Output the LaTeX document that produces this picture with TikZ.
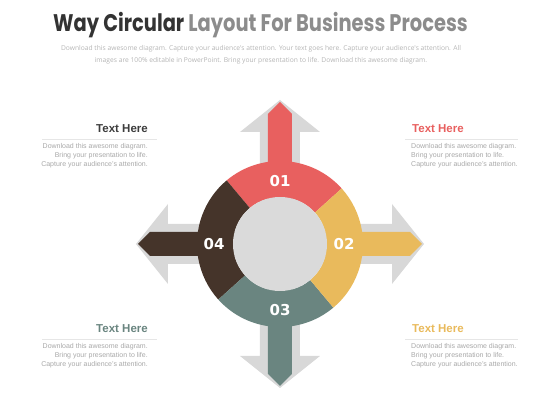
\documentclass[tikz,border=0pt]{standalone}
\usepackage{fontspec}
\setmainfont{Liberation Sans}
\newfontfamily\headfont{Poppins}
\newfontfamily\notefont{Open Sans}
\newfontfamily\digitfont{DejaVu Sans}
\usepackage{tikz}

\definecolor{segred}{HTML}{E8605F}
\definecolor{segyellow}{HTML}{E9BA5C}
\definecolor{segteal}{HTML}{6A8580}
\definecolor{segbrown}{HTML}{45342A}
\definecolor{arrowgray}{HTML}{D8D8D8}
\definecolor{hubgray}{HTML}{DADADA}
\definecolor{titledark}{HTML}{333333}
\definecolor{titlegray}{HTML}{8C8C8C}
\definecolor{notegray}{HTML}{A8A8A8}
\definecolor{rulegray}{HTML}{E6E6E6}

\begin{document}
\begin{tikzpicture}[
            x = 1pt, y = 1pt, % one unit per pixel, origin at the hub
            number/.style = {font=\digitfont\bfseries\fontsize{15}{15}\selectfont, text=white, inner sep=0pt},
            heading/.style = {font=\bfseries\fontsize{11.5}{12}\selectfont, inner sep=0pt},
            note/.style = {font=\fontsize{7}{8.7}\selectfont, text=notegray, inner sep=0pt},
            rule/.style = {draw=rulegray, line width=0.6pt}
        ]
\useasboundingbox (-280,-176) rectangle (280,244);

% title
\node[inner sep=0pt, anchor=base, font=\headfont\bfseries\fontsize{24}{26}\selectfont] (title) at (-19.5,212)
    {\scalebox{0.81}[1]{\color{titledark}Way Circular \color{titlegray}Layout For Business Process}};
\node[inner sep=0pt, align=center, text=notegray!85, font=\notefont\fontsize{6.7}{12}\selectfont] (subtitle) at (-19,189.5)
    {Download this awesome diagram. Capture your audience's attention. Your text goes here. Capture your audience's attention. All\\
     images are 100\% editable in PowerPoint.  Bring your presentation to life. Download this awesome diagram.};

% gray arrows behind
\foreach \d in {0,90,180,270} {
  \fill[arrowgray, rotate=\d] (0,-20) -- (112,-20) -- (112,-40) -- (144,0) -- (112,40) -- (112,20) -- (0,20) -- cycle;
}

% coloured arrows
\foreach \d/\c in {90/segred, 0/segyellow, 270/segteal, 180/segbrown} {
  \fill[\c, rotate=\d] (0,-12) -- (130,-12) -- (142,0) -- (130,12) -- (0,12) -- cycle;
}

% ring
\foreach \a/\b/\c in {42/130/segred, 130/222/segbrown, 222/310/segteal, 310/402/segyellow} {
  \fill[\c] (\a:83) arc[start angle=\a, end angle=\b, radius=83] -- (\b:47)
    arc[start angle=\b, end angle=\a, radius=47] -- cycle;
}
\node[circle, fill=hubgray, minimum size=94pt, inner sep=0pt] (hub) at (0,0) {};

\node[number] (n1) at (90:63) {01};
\node[number] (n2) at (0:64) {02};
\node[number] (n3) at (270:66) {03};
\node[number] (n4) at (180:66) {04};

% text blocks
\node[heading, text=titledark!95, anchor=east] (h4) at (-132,115) {Text Here};
\draw[rule] (-238,105) -- (-123,105);
\node[note, align=right, anchor=north east] (t4) at (-132,100.5)
    {Download this awesome diagram.\\Bring your presentation to life.\\Capture your audience's attention.};

\node[heading, text=segred, anchor=west] (h1) at (132,115) {Text Here};
\draw[rule] (125,105) -- (238,105);
\node[note, align=left, anchor=north west] (t1) at (131,100.5)
    {Download this awesome diagram.\\Bring your presentation to life.\\Capture your audience's attention.};

\node[heading, text=segteal, anchor=east] (h3) at (-132,-85) {Text Here};
\draw[rule] (-238,-95) -- (-123,-95);
\node[note, align=right, anchor=north east] (t3) at (-132,-99.5)
    {Download this awesome diagram.\\Bring your presentation to life.\\Capture your audience's attention.};

\node[heading, text=segyellow, anchor=west] (h2) at (132,-85) {Text Here};
\draw[rule] (125,-95) -- (238,-95);
\node[note, align=left, anchor=north west] (t2) at (131,-99.5)
    {Download this awesome diagram.\\Bring your presentation to life.\\Capture your audience's attention.};

\end{tikzpicture}
\end{document}
